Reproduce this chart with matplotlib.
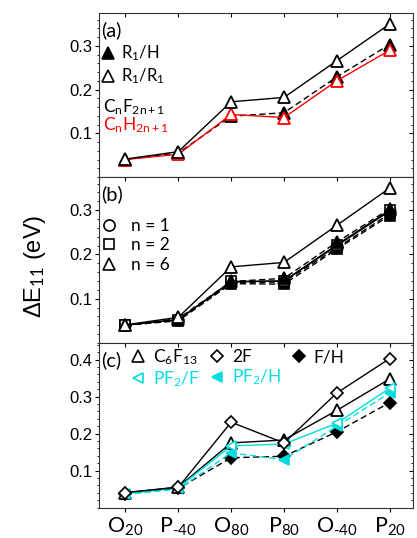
import matplotlib
matplotlib.use("Agg")
import matplotlib.pyplot as plt
from matplotlib.lines import Line2D
from matplotlib.ticker import MultipleLocator, FixedLocator

plt.rcParams['font.family'] = ['Liberation Sans', 'DejaVu Sans']
plt.rcParams['mathtext.fontset'] = 'custom'
plt.rcParams['mathtext.rm'] = 'Lato'
plt.rcParams['mathtext.it'] = 'Lato:italic'
plt.rcParams['mathtext.bf'] = 'Lato:bold'

# ---------------- data ----------------
categories = [r'$\mathrm{O_{20}}$', r'$\mathrm{P_{‐40}}$', r'$\mathrm{O_{80}}$',
              r'$\mathrm{P_{80}}$', r'$\mathrm{O_{‐40}}$', r'$\mathrm{P_{20}}$']
x = list(range(len(categories)))

# panel (a)
a_F_R1H = [0.040, 0.055, 0.139, 0.147, 0.229, 0.303]   # CnF2n+1, R1/H (filled)
a_F_R1R1 = [0.041, 0.058, 0.172, 0.182, 0.266, 0.350]  # CnF2n+1, R1/R1 (open)
a_H_R1R1 = [0.040, 0.052, 0.143, 0.136, 0.220, 0.290]  # CnH2n+1, R1/R1 (red)

# panel (b)
b_n1_open = [0.040, 0.053, 0.138, 0.140, 0.220, 0.298]
b_n1_fill = [0.040, 0.052, 0.136, 0.138, 0.215, 0.292]
b_n2_open = [0.041, 0.052, 0.139, 0.140, 0.222, 0.300]
b_n2_fill = [0.040, 0.050, 0.134, 0.133, 0.212, 0.288]
b_n6_fill = [0.040, 0.055, 0.139, 0.146, 0.228, 0.303]
b_n6_open = [0.041, 0.058, 0.172, 0.182, 0.266, 0.350]

# panel (c)
c_C6F13 = [0.040, 0.056, 0.175, 0.183, 0.263, 0.348]
c_2F = [0.041, 0.055, 0.231, 0.175, 0.310, 0.403]
c_FH = [0.038, 0.052, 0.135, 0.139, 0.205, 0.284]
c_PF2F = [0.038, 0.054, 0.167, 0.172, 0.228, 0.323]
c_PF2H = [0.036, 0.050, 0.148, 0.130, 0.220, 0.310]

CYAN = '#00DDE0'
RED = '#FF0000'
lw = 1.0
dash = (0, (4.5, 2.5))

fig = plt.figure(figsize=(4.17, 5.38), dpi=100)
L, W = 0.2374, 0.7530
axa = fig.add_axes([L, 0.6710, W, 0.3048])
axb = fig.add_axes([L, 0.3625, W, 0.3085])
axc = fig.add_axes([L, 0.0563, W, 0.3062])


def style(ax, ymax, yticks, show_x):
    ax.set_xlim(-0.5, 5.44)
    ax.set_ylim(0, ymax)
    ax.yaxis.set_major_locator(FixedLocator(yticks))
    ax.yaxis.set_minor_locator(MultipleLocator(0.02))
    ax.set_yticklabels([f'{t:.1f}' for t in yticks])
    ax.set_xticks(x)
    ax.tick_params(axis='y', which='both', direction='out', left=True, right=False,
                   labelsize=12, pad=1.5)
    ax.tick_params(axis='y', which='major', length=3, width=0.8)
    ax.tick_params(axis='y', which='minor', length=1.8, width=0.6)
    ax.tick_params(axis='x', which='major', direction='out', length=3, width=0.8,
                   top=False, labelsize=15.5, pad=3)
    if show_x:
        ax.set_xticklabels(categories)
    else:
        ax.set_xticklabels([])
    # mirrored inward ticks on right and top
    sec = ax.secondary_yaxis('right')
    sec.yaxis.set_major_locator(FixedLocator(yticks))
    sec.yaxis.set_minor_locator(MultipleLocator(0.02))
    sec.tick_params(which='both', direction='in', labelright=False)
    sec.tick_params(which='major', length=3, width=0.8)
    sec.tick_params(which='minor', length=1.8, width=0.6)
    sec.spines['right'].set_visible(False)
    secx = ax.secondary_xaxis('top')
    secx.set_xticks(x)
    secx.tick_params(direction='in', length=3, width=0.8, labeltop=False)
    secx.spines['top'].set_visible(False)
    for s in ax.spines.values():
        s.set_linewidth(0.8)
        s.set_color('#333333')


mk = dict(markersize=9, markeredgewidth=1.3)

# ---- panel (a)
axa.plot(x, a_F_R1H, color='k', ls=dash, lw=lw, marker='^', mfc='k', mec='k', **mk)
axa.plot(x, a_H_R1R1, color=RED, ls='-', lw=lw, marker='^', mfc='white', mec=RED, **mk)
axa.plot(x, a_F_R1R1, color='k', ls='-', lw=lw, marker='^', mfc='white', mec='k', **mk)
style(axa, 0.375, [0.1, 0.2, 0.3], False)
axa.text(0.008, 0.95, '(a)', transform=axa.transAxes, fontsize=14.5,
         family='Lato', va='top', ha='left')
ha = [Line2D([], [], ls='none', marker='^', color='k', mfc='k', mec='k', markersize=8, mew=1.2),
      Line2D([], [], ls='none', marker='^', color='k', mfc='white', mec='k', markersize=8, mew=1.2)]
axa.legend(ha, [r'$\mathrm{R_1/H}$', r'$\mathrm{R_1/R_1}$'], loc='upper left',
           bbox_to_anchor=(0.005, 0.815), frameon=False, borderaxespad=0,
           borderpad=0, handlelength=0.9, handletextpad=0.35, labelspacing=0.2,
           prop={'family': 'Lato', 'size': 12})
axa.text(0.013, 0.427, r'$\mathrm{C_nF_{2n+1}}$', transform=axa.transAxes,
         fontsize=12.5, va='center', ha='left', color='k')
axa.text(0.013, 0.317, r'$\mathrm{C_nH_{2n+1}}$', transform=axa.transAxes,
         fontsize=12.5, va='center', ha='left', color=RED)

# ---- panel (b)
axb.plot(x, b_n1_fill, color='k', ls=dash, lw=lw, marker='o', mfc='k', mec='k', markersize=7.5, mew=1.2)
axb.plot(x, b_n1_open, color='k', ls='-', lw=lw, marker='o', mfc='white', mec='k', markersize=7.5, mew=1.2)
axb.plot(x, b_n2_fill, color='k', ls=dash, lw=lw, marker='s', mfc='k', mec='k', markersize=7, mew=1.2)
axb.plot(x, b_n2_open, color='k', ls='-', lw=lw, marker='s', mfc='white', mec='k', markersize=7, mew=1.2)
axb.plot(x, b_n6_fill, color='k', ls=dash, lw=lw, marker='^', mfc='k', mec='k', **mk)
axb.plot(x, b_n6_open, color='k', ls='-', lw=lw, marker='^', mfc='white', mec='k', **mk)
style(axb, 0.375, [0.1, 0.2, 0.3], False)
axb.text(0.008, 0.95, '(b)', transform=axb.transAxes, fontsize=14.5,
         family='Lato', va='top', ha='left')
hb = [Line2D([], [], ls='none', marker='o', color='k', mfc='white', mec='k', markersize=8, mew=1.2),
      Line2D([], [], ls='none', marker='s', color='k', mfc='white', mec='k', markersize=7, mew=1.2),
      Line2D([], [], ls='none', marker='^', color='k', mfc='white', mec='k', markersize=8, mew=1.2)]
axb.legend(hb, ['n = 1', 'n = 2', 'n = 6'], loc='upper left',
           bbox_to_anchor=(0.008, 0.755), frameon=False, borderaxespad=0,
           borderpad=0, handlelength=0.9, handletextpad=0.8, labelspacing=0.2,
           prop={'family': 'Lato', 'size': 12.5})

# ---- panel (c)
axc.plot(x, c_FH, color='k', ls=dash, lw=lw, marker='D', mfc='k', mec='k', markersize=6.5, mew=1.2)
axc.plot(x, c_PF2H, color=CYAN, ls=dash, lw=lw, marker='<', mfc=CYAN, mec=CYAN, markersize=7, mew=1.2)
axc.plot(x, c_C6F13, color='k', ls='-', lw=lw, marker='^', mfc='white', mec='k', **mk)
axc.plot(x, c_PF2F, color=CYAN, ls='-', lw=lw, marker='<', mfc='white', mec=CYAN, markersize=7, mew=1.2)
axc.plot(x, c_2F, color='k', ls='-', lw=lw, marker='D', mfc='white', mec='k', markersize=6.5, mew=1.2)
style(axc, 0.445, [0.1, 0.2, 0.3, 0.4], True)
axc.text(0.008, 0.95, '(c)', transform=axc.transAxes, fontsize=14.5,
         family='Lato', va='top', ha='left')
hc = [Line2D([], [], ls='none', marker='^', color='k', mfc='white', mec='k', markersize=8, mew=1.2),
      Line2D([], [], ls='none', marker='<', color=CYAN, mfc='white', mec=CYAN, markersize=7, mew=1.2),
      Line2D([], [], ls='none', marker='D', color='k', mfc='white', mec='k', markersize=6.5, mew=1.2),
      Line2D([], [], ls='none', marker='<', color=CYAN, mfc=CYAN, mec=CYAN, markersize=7, mew=1.2),
      Line2D([], [], ls='none', marker='D', color='k', mfc='k', mec='k', markersize=6.5, mew=1.2)]
axc.legend(hc, [r'$\mathrm{C_6F_{13}}$', r'$\mathrm{PF_2/F}$', '2F', r'$\mathrm{PF_2/H}$', 'F/H'],
           ncol=3, loc='upper left', bbox_to_anchor=(0.1, 0.975), frameon=False,
           borderaxespad=0, borderpad=0, handlelength=0.9, handletextpad=0.4,
           labelspacing=0.15, columnspacing=0.55, labelcolor='linecolor',
           prop={'family': 'Lato', 'size': 12.5})

fig.text(0.084, 0.505, r'ΔE$_{11}$ (eV)', rotation=90, fontsize=17,
         ha='center', va='center')

fig.savefig('out.png', dpi=100)
